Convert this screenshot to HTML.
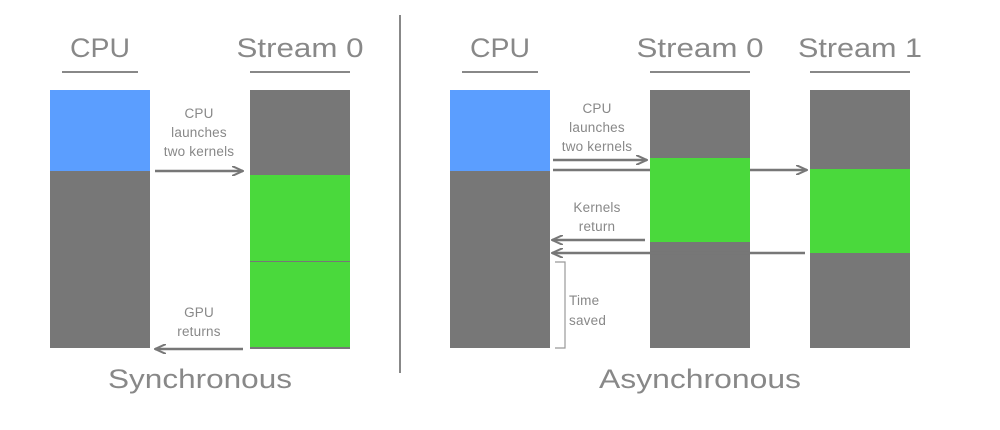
<!DOCTYPE html>
<html><head><style>body{margin:0;background:#fff}</style></head><body>
<svg width="1000" height="425" xmlns="http://www.w3.org/2000/svg" font-family="Liberation Sans, sans-serif">
<defs><marker id="a" markerWidth="12" markerHeight="10" refX="11" refY="5" orient="auto" markerUnits="userSpaceOnUse"><path d="M0,0 L11,5 L0,10" fill="none" stroke="#777" stroke-width="2"/></marker></defs>
<g fill="#888" font-size="27" text-anchor="middle" lengthAdjust="spacingAndGlyphs">
<text x="100" y="57" textLength="60" lengthAdjust="spacingAndGlyphs">CPU</text><text x="300" y="57" textLength="127" lengthAdjust="spacingAndGlyphs">Stream 0</text>
<text x="500" y="57" textLength="60" lengthAdjust="spacingAndGlyphs">CPU</text><text x="700" y="57" textLength="127" lengthAdjust="spacingAndGlyphs">Stream 0</text><text x="860" y="57" textLength="124" lengthAdjust="spacingAndGlyphs">Stream 1</text>
<text x="200" y="388" textLength="184" lengthAdjust="spacingAndGlyphs">Synchronous</text><text x="700" y="388" textLength="202" lengthAdjust="spacingAndGlyphs">Asynchronous</text>
</g>
<g stroke="#888" stroke-width="2">
<line x1="62" y1="72" x2="138" y2="72"/><line x1="250" y1="72" x2="350" y2="72"/>
<line x1="462" y1="72" x2="538" y2="72"/><line x1="650" y1="72" x2="750" y2="72"/><line x1="810" y1="72" x2="910" y2="72"/>
<line x1="400" y1="15" x2="400" y2="373"/>
</g>
<rect x="50" y="90" width="100" height="258" fill="#777"/><rect x="50" y="90" width="100" height="81" fill="#5b9eff"/>
<rect x="250" y="90" width="100" height="259" fill="#777"/><rect x="250" y="175" width="100" height="172" fill="#4ad93c"/>
<line x1="250" y1="261.5" x2="350" y2="261.5" stroke="#777" stroke-width="1"/>
<rect x="450" y="90" width="100" height="258" fill="#777"/><rect x="450" y="90" width="100" height="81" fill="#5b9eff"/>
<rect x="650" y="90" width="100" height="258" fill="#777"/><rect x="650" y="158" width="100" height="84" fill="#4ad93c"/>
<rect x="810" y="90" width="100" height="258" fill="#777"/><rect x="810" y="169" width="100" height="84" fill="#4ad93c"/>
<g stroke="#777" stroke-width="2.5" marker-end="url(#a)">
<line x1="155" y1="171" x2="243" y2="171"/><line x1="243" y1="349" x2="155" y2="349"/>
<line x1="553" y1="160" x2="647" y2="160"/><line x1="750" y1="170" x2="807" y2="170"/>
<line x1="645" y1="240" x2="552" y2="240"/><line x1="805" y1="253" x2="552" y2="253"/>
</g>
<line x1="553" y1="170" x2="650" y2="170" stroke="#777" stroke-width="2.5"/>
<path d="M555,262 H565 V348 H555" fill="none" stroke="#999" stroke-width="1.2"/>
<g fill="#888" font-size="13.5" text-anchor="middle" letter-spacing="0.2">
<text x="199" y="118">CPU</text><text x="199" y="137">launches</text><text x="199" y="156">two kernels</text>
<text x="199" y="317">GPU</text><text x="199" y="336">returns</text>
<text x="597" y="113">CPU</text><text x="597" y="132">launches</text><text x="597" y="151">two kernels</text>
<text x="597" y="212">Kernels</text><text x="597" y="231">return</text>
</g>
<g fill="#888" font-size="13.5" letter-spacing="0.2"><text x="569" y="305">Time</text><text x="569" y="325">saved</text></g>
</svg>
</body></html>
